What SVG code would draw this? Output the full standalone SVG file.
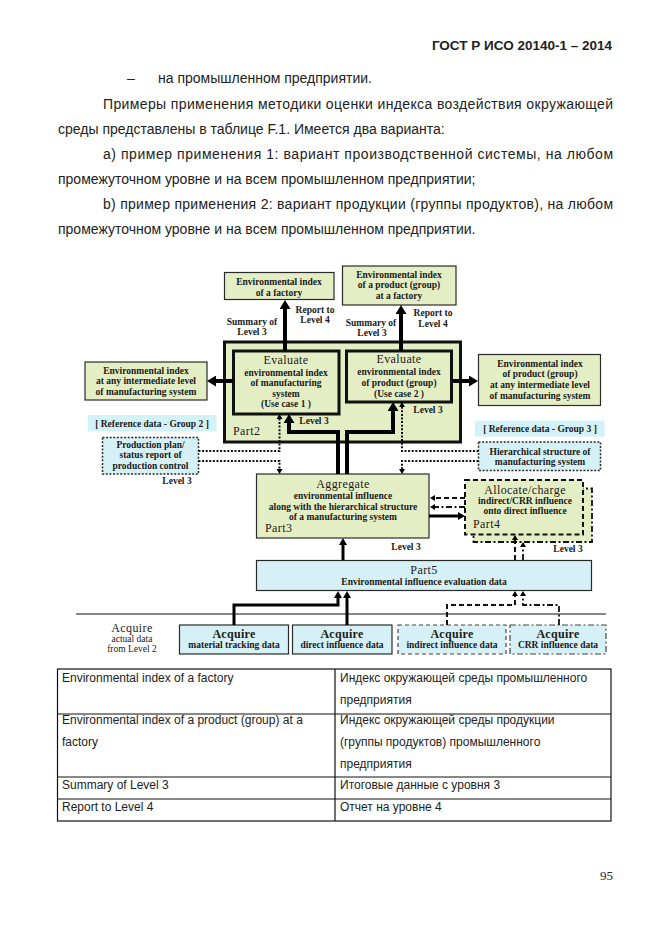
<svg xmlns="http://www.w3.org/2000/svg" width="661" height="935" viewBox="0 0 661 935">
<style>
.body{font-family:"Liberation Sans",Arial,sans-serif;font-size:14px;fill:#222}
.hdr{font-family:"Liberation Sans",Arial,sans-serif;font-size:13.5px;font-weight:bold;fill:#222}
.tb{font-family:"Liberation Sans",Arial,sans-serif;font-size:12px;fill:#222}
.t{font-family:"Liberation Serif","Times New Roman",serif;font-size:9.5px;font-weight:bold;fill:#1a1a1a;text-anchor:middle}
.tn{font-family:"Liberation Serif","Times New Roman",serif;font-size:9.5px;fill:#1a1a1a;text-anchor:middle}
.h{font-family:"Liberation Serif","Times New Roman",serif;font-size:12px;letter-spacing:0.4px;fill:#1a1a1a;text-anchor:middle}
.hb{font-family:"Liberation Serif","Times New Roman",serif;font-size:12px;font-weight:bold;letter-spacing:0.3px;fill:#1a1a1a;text-anchor:middle}
.p{font-family:"Liberation Serif","Times New Roman",serif;font-size:12px;letter-spacing:0.4px;fill:#1a1a1a}
.g{fill:#e4eec4;stroke:#2a2a2a;stroke-width:1.2}
.gk{fill:#e4eec4;stroke:#111;stroke-width:3}
.c{fill:#d5f1f5;stroke:#2a2a2a;stroke-width:1.2}
.cref{fill:#d3f2f7;stroke:none}
.cdot{fill:#d5f1f5;stroke:#2a2a2a;stroke-width:1.5;stroke-dasharray:2 1.6}
.cdash{fill:#d5f1f5;stroke:#444;stroke-width:1.2;stroke-dasharray:4 3}
.cdd{fill:#d5f1f5;stroke:#444;stroke-width:1.2;stroke-dasharray:6 2.5 2 2.5}
.k4{fill:none;stroke:#000;stroke-width:4;marker-end:url(#big)}
.k3{fill:none;stroke:#000;stroke-width:3;marker-end:url(#med)}
.dot{fill:none;stroke:#111;stroke-width:2;stroke-dasharray:2 1.6;marker-end:url(#sm)}
.dash{fill:none;stroke:#111;stroke-width:2;stroke-dasharray:5 3;marker-end:url(#sm)}
.dd{fill:none;stroke:#111;stroke-width:1.8;stroke-dasharray:6 2.5 2 2.5;marker-end:url(#sm)}
</style>
<defs>
<marker id="big" viewBox="0 0 9 11" refX="1" refY="5.5" markerWidth="9" markerHeight="11" markerUnits="userSpaceOnUse" orient="auto"><path d="M0,0 L9,5.5 L0,11 z" fill="#000"/></marker>
<marker id="med" viewBox="0 0 7 8" refX="1" refY="4" markerWidth="7" markerHeight="8" markerUnits="userSpaceOnUse" orient="auto"><path d="M0,0 L7,4 L0,8 z" fill="#000"/></marker>
<marker id="sm" viewBox="0 0 5 6" refX="1" refY="3" markerWidth="5" markerHeight="6" markerUnits="userSpaceOnUse" orient="auto"><path d="M0,0 L5,3 L0,6 z" fill="#000"/></marker>
</defs>
<rect width="661" height="935" fill="#fff"/>

<g id="page-text">
<text class="hdr" x="612" y="50" text-anchor="end">ГОСТ Р ИСО 20140-1 – 2014</text>
<text class="body" x="127" y="83">–</text>
<text class="body" x="158" y="83">на промышленном предприятии.</text>
<text class="body" x="103" y="109" textLength="510" lengthAdjust="spacing">Примеры применения методики оценки индекса воздействия окружающей</text>
<text class="body" x="58" y="134">среды представлены в таблице F.1. Имеется два варианта:</text>
<text class="body" x="103" y="159" textLength="510" lengthAdjust="spacing">a) пример применения 1: вариант производственной системы, на любом</text>
<text class="body" x="58" y="184">промежуточном уровне и на всем промышленном предприятии;</text>
<text class="body" x="103" y="209" textLength="510" lengthAdjust="spacing">b) пример применения 2: вариант продукции (группы продуктов), на любом</text>
<text class="body" x="58" y="234">промежуточном уровне и на всем промышленном предприятии.</text>
</g>

<g id="factory-index">
<rect class="g" x="224.5" y="272.5" width="109.5" height="27"/>
<text class="t" x="279" y="285">Environmental index</text>
<text class="t" x="279" y="295.5">of a factory</text>
</g>
<g id="product-factory-index">
<rect class="g" x="342.5" y="266" width="113.5" height="39"/>
<text class="t" x="399" y="277.5">Environmental index</text>
<text class="t" x="399" y="288">of a product (group)</text>
<text class="t" x="399" y="299">at a factory</text>
</g>
<g id="labels-top">
<text class="t" x="315" y="313">Report to</text>
<text class="t" x="315" y="322.5">Level 4</text>
<text class="t" x="252" y="325">Summary of</text>
<text class="t" x="252" y="335">Level 3</text>
<text class="t" x="433" y="316">Report to</text>
<text class="t" x="433" y="326.5">Level 4</text>
<text class="t" x="371" y="325.5">Summary of</text>
<text class="t" x="372" y="335.5">Level 3</text>
</g>

<g id="part2">
<rect class="gk" x="224.5" y="342" width="236" height="100"/>
<text class="p" x="233" y="435">Part2</text>
<text class="t" x="314" y="424">Level 3</text>
<text class="t" x="428" y="413">Level 3</text>
</g>
<g id="evaluate1">
<rect class="gk" x="233.5" y="351" width="105.5" height="63"/>
<text class="h" x="286" y="364">Evaluate</text>
<text class="t" x="286" y="375.5">environmental index</text>
<text class="t" x="286" y="386">of manufacturing</text>
<text class="t" x="286" y="396.5">system</text>
<text class="t" x="286" y="407">(Use case 1 )</text>
</g>
<g id="evaluate2">
<rect class="gk" x="346.5" y="351" width="105" height="51"/>
<text class="h" x="399" y="363">Evaluate</text>
<text class="t" x="399" y="375">environmental index</text>
<text class="t" x="399" y="385.5">of product (group)</text>
<text class="t" x="399" y="396.5">(Use case 2 )</text>
</g>
<g id="intermediate-ms">
<rect class="g" x="85" y="362" width="122" height="38"/>
<text class="t" x="146" y="373.5">Environmental index</text>
<text class="t" x="146" y="384">at any intermediate level</text>
<text class="t" x="146" y="394.5">of manufacturing system</text>
</g>
<g id="intermediate-product">
<rect class="g" x="478.5" y="354.5" width="122" height="51"/>
<text class="t" x="540" y="366.5">Environmental index</text>
<text class="t" x="540" y="377">of product (group)</text>
<text class="t" x="540" y="388">at any intermediate level</text>
<text class="t" x="540" y="398.5">of manufacturing system</text>
</g>

<g id="ref-group2">
<rect class="cref" x="88" y="415" width="128.5" height="16.5"/>
<text class="t" x="152" y="426.5">[ Reference data - Group 2 ]</text>
</g>
<g id="production-plan">
<rect class="cdot" x="102.5" y="437.5" width="96" height="36.5"/>
<text class="t" x="150.5" y="447.5">Production plan/</text>
<text class="t" x="150.5" y="458">status report of</text>
<text class="t" x="150.5" y="468.5">production control</text>
<text class="t" x="177" y="484">Level 3</text>
</g>
<g id="ref-group3">
<rect class="cref" x="475" y="420.5" width="129.5" height="16"/>
<text class="t" x="540" y="431.5">[ Reference data - Group 3 ]</text>
</g>
<g id="hierarchical-structure">
<rect class="cdot" x="478.5" y="442" width="122" height="28.5"/>
<text class="t" x="540" y="454.5">Hierarchical structure of</text>
<text class="t" x="540" y="464.5">manufacturing system</text>
</g>

<g id="part3">
<rect class="g" x="256.5" y="474" width="172.5" height="64" stroke-width="1.5"/>
<text class="h" x="343" y="487.5">Aggregate</text>
<text class="t" x="343" y="498.5">environmental influence</text>
<text class="t" x="343" y="509.5">along with the hierarchical structure</text>
<text class="t" x="343" y="520">of a manufacturing system</text>
<text class="p" x="265" y="532">Part3</text>
<text class="t" x="406" y="549.5">Level 3</text>
</g>

<g id="part4">
<rect fill="#e4eec4" stroke="#111" stroke-width="1.8" stroke-dasharray="6 2.5 2 2.5" x="473.5" y="488.5" width="118.5" height="53.5"/>
<rect fill="#e4eec4" stroke="#111" stroke-width="2" stroke-dasharray="5 3" x="465" y="480" width="118" height="54.5"/>
<text class="h" x="525" y="493.5">Allocate/charge</text>
<text class="t" x="525" y="503.5">indirect/CRR influence</text>
<text class="t" x="525" y="513.5">onto direct influence</text>
<text class="p" x="473" y="527.5">Part4</text>
<text class="t" x="568" y="552">Level 3</text>
</g>

<g id="part5">
<rect class="c" x="256.5" y="560.5" width="335" height="30" stroke="#555" stroke-width="1"/>
<text class="h" x="424" y="573.5">Part5</text>
<text class="t" x="424" y="584.5">Environmental influence evaluation data</text>
</g>

<g id="level2-divider">
<line x1="76" y1="614" x2="606" y2="614" stroke="#111" stroke-width="1.2"/>
<text class="h" x="132" y="632">Acquire</text>
<text class="tn" x="132" y="642">actual data</text>
<text class="tn" x="132" y="652">from Level 2</text>
</g>

<g id="acq-material">
<rect class="c" x="179.5" y="625" width="109" height="29"/>
<text class="hb" x="234" y="637.5">Acquire</text>
<text class="t" x="234" y="647.5">material tracking data</text>
</g>
<g id="acq-direct">
<rect class="c" x="292.5" y="625" width="99.5" height="29"/>
<text class="hb" x="342" y="637.5">Acquire</text>
<text class="t" x="342" y="647.5">direct influence data</text>
</g>
<g id="acq-indirect">
<rect class="cdash" x="398" y="625" width="108" height="29"/>
<text class="hb" x="452" y="637.5">Acquire</text>
<text class="t" x="452" y="647.5">indirect influence data</text>
</g>
<g id="acq-crr">
<rect class="cdd" x="510" y="625" width="96" height="29"/>
<text class="hb" x="558" y="637.5">Acquire</text>
<text class="t" x="558" y="647.5">CRR influence data</text>
</g>

<g id="connectors">
<path class="k4" d="M285,351 V308"/>
<path class="k4" d="M401,351 V313"/>
<path class="k4" d="M233,381 H215"/>
<path class="k4" d="M452,381 H470"/>
<path class="k4" d="M338,474 V432 H289 V422"/>
<path class="k4" d="M347,474 V432 H393 V410"/>
<path class="k3" stroke-width="2.5" d="M429,516 H459"/>
<path class="k3" d="M343,560 V544"/>
<path class="k3" d="M234,625 V605 H338 V597"/>
<path class="k3" d="M347,625 V597"/>
<path class="dot" d="M198.5,451 H279.5 V418"/>
<path class="dot" d="M198.5,461 H279.5 V470"/>
<path class="dot" d="M478.5,451 H402 V406"/>
<path class="dot" d="M478.5,461 H402 V470"/>
<path class="dash" d="M465,498 H434"/>
<path class="dd" d="M465,507 H434"/>
<path class="dash" d="M515,560 V539"/>
<path class="dd" d="M523,560 V546"/>
<path class="dash" d="M447,625 V605 H515 V595"/>
<path class="dd" d="M559,625 V605 H523 V595"/>
</g>

<g id="table">
<rect x="57.5" y="669" width="553.5" height="152" fill="none" stroke="#111" stroke-width="1.2"/>
<line x1="335" y1="669" x2="335" y2="821" stroke="#111" stroke-width="1.2"/>
<line x1="57.5" y1="714" x2="611" y2="714" stroke="#111" stroke-width="1"/>
<line x1="57.5" y1="777" x2="611" y2="777" stroke="#111" stroke-width="1"/>
<line x1="57.5" y1="799" x2="611" y2="799" stroke="#111" stroke-width="1"/>
<text class="tb" x="62" y="682">Environmental index of a factory</text>
<text class="tb" x="340" y="682">Индекс окружающей среды промышленного</text>
<text class="tb" x="340" y="704">предприятия</text>
<text class="tb" x="62" y="724">Environmental index of a product (group) at a</text>
<text class="tb" x="62" y="746">factory</text>
<text class="tb" x="340" y="724">Индекс окружающей среды продукции</text>
<text class="tb" x="340" y="746">(группы продуктов) промышленного</text>
<text class="tb" x="340" y="768">предприятия</text>
<text class="tb" x="62" y="789">Summary of Level 3</text>
<text class="tb" x="340" y="789">Итоговые данные с уровня 3</text>
<text class="tb" x="62" y="811">Report to Level 4</text>
<text class="tb" x="340" y="811">Отчет на уровне 4</text>
</g>

<text x="613" y="880" text-anchor="end" font-family="'Liberation Serif','Times New Roman',serif" font-size="13" fill="#222">95</text>
</svg>
